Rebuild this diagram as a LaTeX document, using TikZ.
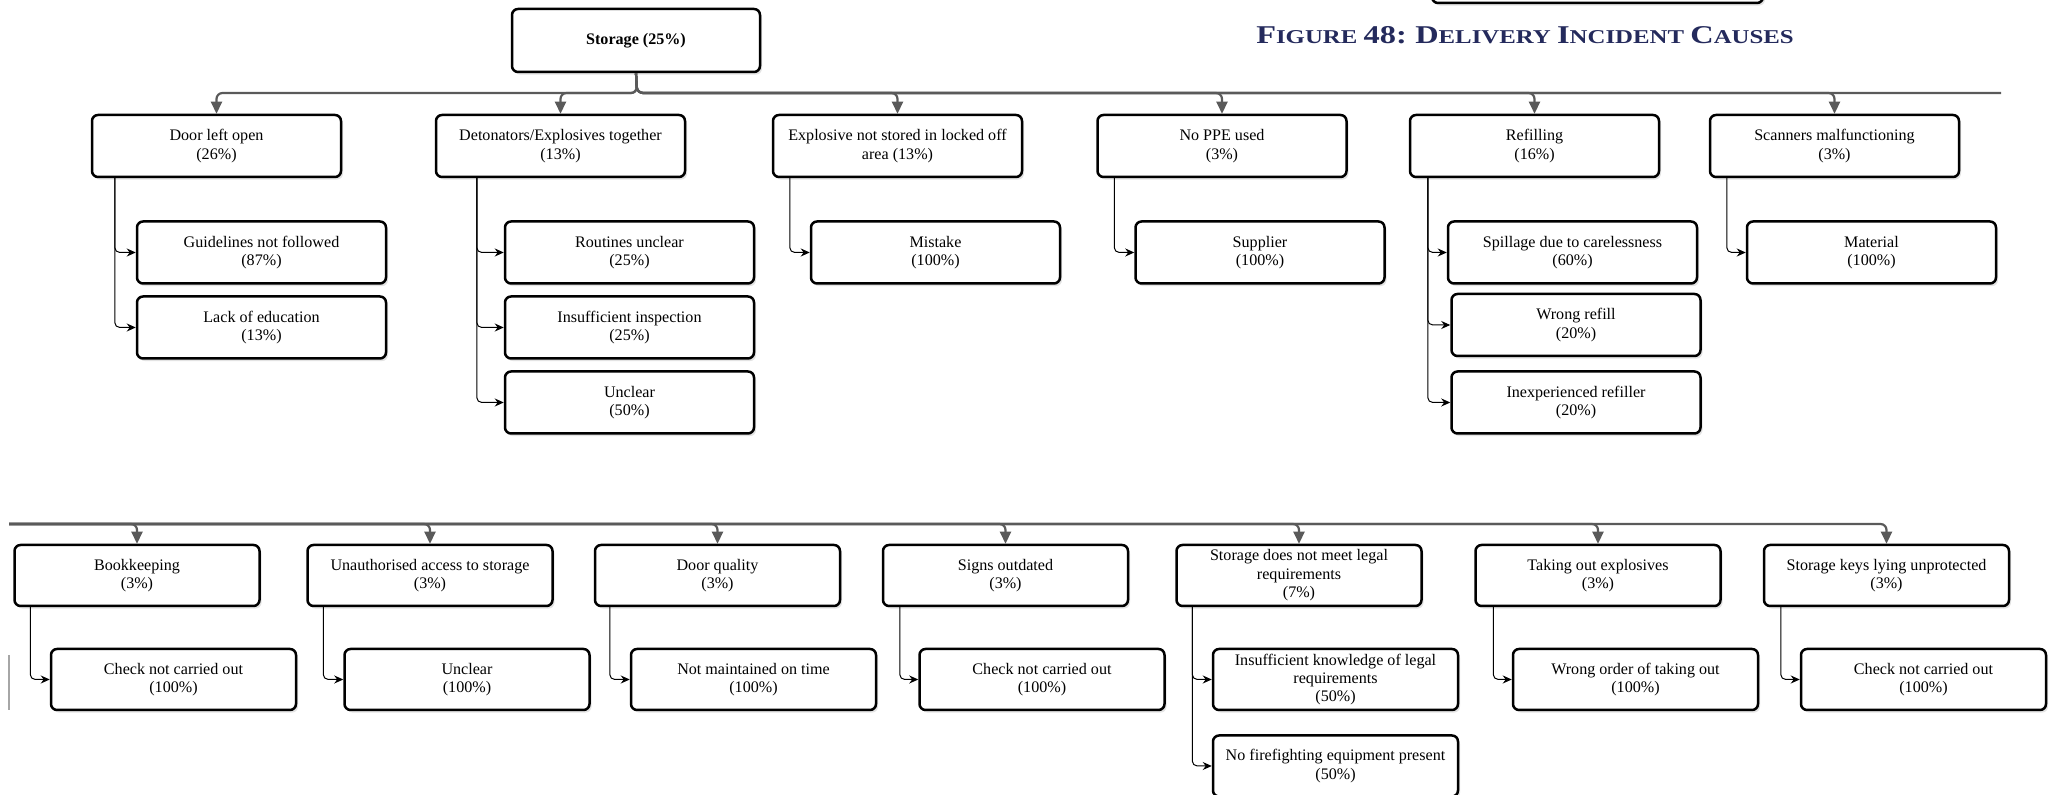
\documentclass[tikz,border=0pt]{standalone}
\usepackage{fontspec}
\usepackage{graphicx}
\setmainfont{Liberation Serif}
\usetikzlibrary{arrows.meta,shadows}
\definecolor{titleblue}{RGB}{36,42,92}
\definecolor{bargray}{RGB}{90,90,90}
\newcommand\causefont{\fontsize{8.05}{9.2}\selectfont}
\newcommand\capword[2]{{\fontsize{12.8}{14}\selectfont #1}{\fontsize{9.8}{12}\selectfont #2}}
\tikzset{
  cause/.style={draw=black, line width=1.25pt, rounded corners=3pt, fill=white,
    align=center, inner sep=1pt, minimum width=124.5pt, minimum height=31pt,
    font=\causefont, drop shadow={shadow xshift=1pt, shadow yshift=-1.3pt, fill=black!22}},
  lower/.style={cause, minimum width=122.5pt, minimum height=30.5pt},
  branch/.style={draw=bargray, line width=1.1pt, rounded corners=3pt,
    -{Triangle[length=6pt,width=5.5pt]}},
  sub/.style={draw=black, line width=0.5pt, rounded corners=2.5pt,
    -{Stealth[length=4.5pt,width=4pt]}}
}
\begin{document}
\begin{tikzpicture}[x=0.5pt,y=-0.5pt]
      \useasboundingbox (0,0) rectangle (2053,795);
      % pieces cut off at the edges
      \node[cause, minimum width=165.5pt, minimum height=33pt] (prev) at (1597.5,-30) {};
      \draw [black!35, line width=1pt] (9,655) -- (9,710);
      % title
      \node [text=titleblue, font=\bfseries] (title) at (1525,35)
        {\scalebox{1.265}[1]{\capword{F}{IGURE} {\fontsize{12.8}{14}\selectfont 48:} \capword{D}{ELIVERY} \capword{I}{NCIDENT} \capword{C}{AUSES}}};
      % root
      \node[cause, minimum width=124pt, minimum height=31.5pt] (storage) at (636,40.5) {\textbf{Storage (25\%)}};
      % causes, first row
      \node[cause] (door) at (216.5,146) {Door left open\\(26\%)};
      \node[cause] (deto) at (560.5,146) {Detonators/Explosives together\\(13\%)};
      \node[cause] (locked) at (897.5,146) {Explosive not stored in locked off\\area (13\%)};
      \node[cause] (ppe) at (1222,146) {No PPE used\\(3\%)};
      \node[cause] (refill) at (1534.5,146) {Refilling\\(16\%)};
      \node[cause] (scan) at (1834.5,146) {Scanners malfunctioning\\(3\%)};
      % sub causes, first row
      \node[cause] (guide) at (261.5,252.5) {Guidelines not followed\\(87\%)};
      \node[cause] (lack) at (261.5,327.5) {Lack of education\\(13\%)};
      \node[cause] (routine) at (629.5,252.5) {Routines unclear\\(25\%)};
      \node[cause] (inspect) at (629.5,327.5) {Insufficient inspection\\(25\%)};
      \node[cause] (unclearA) at (629.5,402.5) {Unclear\\(50\%)};
      \node[cause] (mistake) at (935.5,252.5) {Mistake\\(100\%)};
      \node[cause] (supplier) at (1260,252.5) {Supplier\\(100\%)};
      \node[cause] (spill) at (1572.5,252.5) {Spillage due to carelessness\\(60\%)};
      \node[cause] (wrongrefill) at (1576,325) {Wrong refill\\(20\%)};
      \node[cause] (inexp) at (1576,402.5) {Inexperienced refiller\\(20\%)};
      \node[cause] (material) at (1871.5,252.5) {Material\\(100\%)};
      % causes, second row
      \node[lower] (book) at (137,575.5) {Bookkeeping\\(3\%)};
      \node[lower] (unauth) at (430,575.5) {Unauthorised access to storage\\(3\%)};
      \node[lower] (doorq) at (717.5,575.5) {Door quality\\(3\%)};
      \node[lower] (signs) at (1005.5,575.5) {Signs outdated\\(3\%)};
      \node[lower] (legal) at (1299,575.5) {Storage does not meet legal\\requirements\\(7\%)};
      \node[lower] (takeout) at (1598,575.5) {Taking out explosives\\(3\%)};
      \node[lower] (keys) at (1886.5,575.5) {Storage keys lying unprotected\\(3\%)};
      % sub causes, second row
      \node[lower] (checkA) at (173.5,679.5) {Check not carried out\\(100\%)};
      \node[lower] (unclearB) at (467,679.5) {Unclear\\(100\%)};
      \node[lower] (maint) at (753.5,679.5) {Not maintained on time\\(100\%)};
      \node[lower] (checkB) at (1042,679.5) {Check not carried out\\(100\%)};
      \node[lower] (knowledge) at (1335.5,679.5) {Insufficient knowledge of legal\\requirements\\(50\%)};
      \node[lower] (firefight) at (1335.5,766) {No firefighting equipment present\\(50\%)};
      \node[lower] (order) at (1635.5,679.5) {Wrong order of taking out\\(100\%)};
      \node[lower] (checkC) at (1923.5,679.5) {Check not carried out\\(100\%)};
      % branch bars
      \coordinate (hub) at (637,93);
      \coordinate (barend) at (2001,93);
      \coordinate (barstart) at (9,524);
      \draw [branch, -] (storage.south) -- (hub) -- (barend);
      \foreach \n in {door,deto,locked,ppe,refill,scan}
        \draw [branch] (storage.south) -- (hub) -| (\n.north);
      \foreach \n in {book,unauth,doorq,signs,legal,takeout,keys}
        \draw [branch] (barstart) -| (\n.north);
      % sub cause lines
      \draw [sub] ([xshift=12pt]door.south west) |- (guide.west);
      \draw [sub] ([xshift=12pt]door.south west) |- (lack.west);
      \foreach \n in {routine,inspect,unclearA}
        \draw [sub] ([xshift=21pt]deto.south west) |- (\n.west);
      \draw [sub] ([xshift=9pt]locked.south west) |- (mistake.west);
      \draw [sub] ([xshift=9pt]ppe.south west) |- (supplier.west);
      \foreach \n in {spill,wrongrefill,inexp}
        \draw [sub] ([xshift=9.5pt]refill.south west) |- (\n.west);
      \draw [sub] ([xshift=9pt]scan.south west) |- (material.west);
      \draw [sub] ([xshift=8.5pt]book.south west) |- (checkA.west);
      \draw [sub] ([xshift=8.5pt]unauth.south west) |- (unclearB.west);
      \draw [sub] ([xshift=8pt]doorq.south west) |- (maint.west);
      \draw [sub] ([xshift=9pt]signs.south west) |- (checkB.west);
      \draw [sub] ([xshift=8.5pt]legal.south west) |- (knowledge.west);
      \draw [sub] ([xshift=8.5pt]legal.south west) |- (firefight.west);
      \draw [sub] ([xshift=9.5pt]takeout.south west) |- (order.west);
      \draw [sub] ([xshift=9pt]keys.south west) |- (checkC.west);
\end{tikzpicture}
\end{document}
